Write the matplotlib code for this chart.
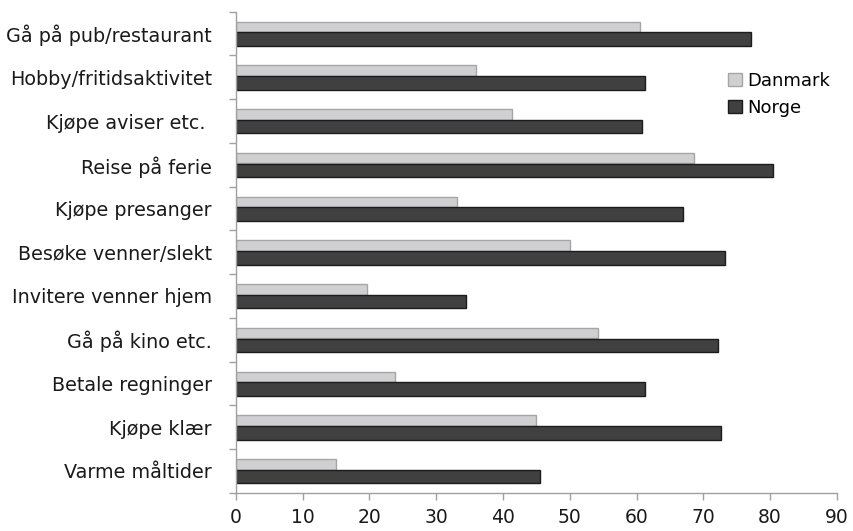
import matplotlib.pyplot as plt
import matplotlib as mpl
import numpy as np

# data (top to bottom)
categories = ["Gå på pub/restaurant", "Hobby/fritidsaktivitet", "Kjøpe aviser etc. ",
              "Reise på ferie", "Kjøpe presanger", "Besøke venner/slekt",
              "Invitere venner hjem", "Gå på kino etc.", "Betale regninger",
              "Kjøpe klær", "Varme måltider"]
danmark = [60.5, 35.9, 41.4, 68.6, 33.1, 50.0, 19.6, 54.2, 23.9, 44.9, 15.0]
norge = [77.1, 61.2, 60.8, 80.5, 66.9, 73.2, 34.5, 72.2, 61.3, 72.6, 45.6]
xticks = list(range(0, 100, 10))

plt.rcParams["font.family"] = ["DejaVu Sans"]

fig = plt.figure(figsize=(8.54, 5.31), dpi=100)
ax = fig.add_axes([0.276, 0.072, 0.704, 0.906])

y = np.arange(len(categories)) + 0.5

ax.barh(y - 0.15, danmark, height=0.24, color="#d0d0d2", edgecolor="#a6a6a6",
        linewidth=1.0, label="Danmark")
ax.barh(y + 0.13, norge, height=0.31, color="#404040", edgecolor="#1c1c1c",
        linewidth=1.0, label="Norge")

ax.set_xlim(0, 90)
ax.set_ylim(len(categories), 0)

# category labels at centres, tick marks at boundaries
ax.set_yticks(y)
ax.set_yticklabels(categories, fontsize=13.8, color="#1a1a1a")
ax.tick_params(axis="y", which="major", length=0, pad=17)
ax.set_yticks(np.arange(len(categories) + 1), minor=True)
ax.tick_params(axis="y", which="minor", length=5, color="#a0a0a0", width=1)

ax.set_xticks(xticks)
ax.set_xticklabels([str(t) for t in xticks], fontsize=13.5, color="#1a1a1a")
ax.tick_params(axis="x", length=5, color="#a0a0a0", width=1, pad=6)

for s in ["top", "right"]:
    ax.spines[s].set_visible(False)
for s in ["left", "bottom"]:
    ax.spines[s].set_color("#a0a0a0")
    ax.spines[s].set_linewidth(1)

fig.legend(loc="upper left", bbox_to_anchor=(0.842, 0.882), frameon=False,
           fontsize=13, handlelength=0.75, handleheight=0.75, handletextpad=0.3,
           labelspacing=0.5, borderpad=0)

fig.savefig("out.png", dpi=100)
